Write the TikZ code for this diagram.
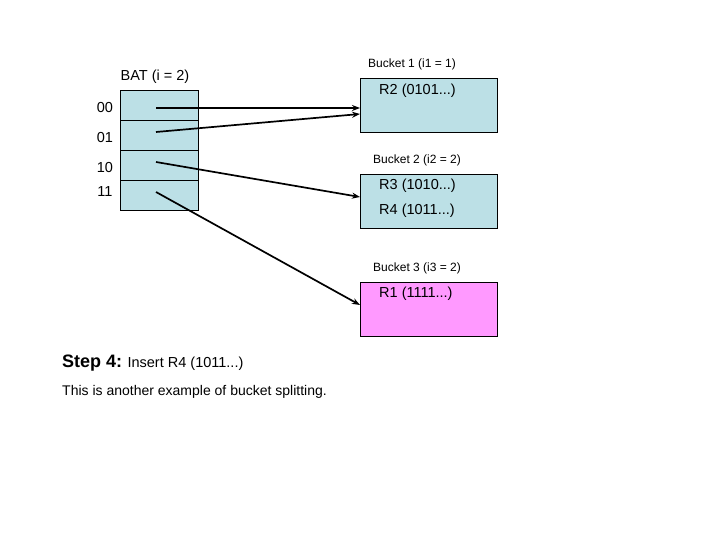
\documentclass[tikz,border=0pt]{standalone}
\usepackage{fontspec}
\setmainfont{Liberation Sans}
\usetikzlibrary{arrows.meta,positioning}
\definecolor{BucketBlue}{HTML}{BCE0E6}
\definecolor{BucketPink}{HTML}{FF99FF}

\tikzset{
  cell/.style={draw, fill=BucketBlue, minimum width=78pt, minimum height=30pt, inner sep=0pt},
  bucket/.style={draw, minimum width=137pt, minimum height=54pt, inner sep=0pt},
  bigtxt/.style={font=\fontsize{14.5}{17}\selectfont, inner sep=0pt},
  smalltxt/.style={font=\fontsize{12}{14}\selectfont, inner sep=0pt},
  ptr/.style={-{Stealth[length=8pt, width=6pt]}, line width=1.7pt}
}

\begin{document}
\begin{tikzpicture}[x=1pt, y=-1pt]
\useasboundingbox (0,0) rectangle (720,540);

% BAT table
\node[bigtxt] (bat) at (155,77) {BAT (i = 2)};
\foreach \lbl/\ly [count=\k] in {00/108, 01/138, 10/168, 11/192}
{
  \node[cell, anchor=north west] (c\lbl) at (120,{90+30*(\k-1)}) {};
  \node[bigtxt] (l\lbl) at (105,\ly) {\lbl};
}

% Buckets
\node[bucket, fill=BucketBlue, anchor=north west] (b1) at (360,78) {};
\node[bucket, fill=BucketBlue, anchor=north west] (b2) at (360,174) {};
\node[bucket, fill=BucketPink, anchor=north west] (b3) at (360,282) {};

\node[smalltxt, anchor=west] (t1) at (368,64) {Bucket 1 (i1 = 1)};
\node[smalltxt, anchor=west] (t2) at (373,160) {Bucket 2 (i2 = 2)};
\node[smalltxt, anchor=west] (t3) at (373,268) {Bucket 3 (i3 = 2)};

% Records
\node[bigtxt, anchor=west] (r2) at (379,91) {R2 (0101...)};
\node[bigtxt, anchor=west] (r3) at (379,186) {R3 (1010...)};
\node[bigtxt, anchor=west] (r4) at (379,211) {R4 (1011...)};
\node[bigtxt, anchor=west] (r1) at (379,294) {R1 (1111...)};

% Pointers from directory to buckets
\coordinate (p00) at (156,108);
\coordinate (p01) at (156,132);
\coordinate (p10) at (156,162);
\coordinate (p11) at (156,192);
\coordinate (e01) at (360,114);
\coordinate (e10) at (360,197);
\coordinate (e11) at (360,305);
\draw[ptr] (p00) -- (p00 -| b1.west);
\draw[ptr] (p01) -- (e01);
\draw[ptr] (p10) -- (e10);
\draw[ptr] (p11) -- (e11);

% Caption
\node[bigtxt, anchor=base west] (step) at (62,367)
  {{\bfseries\fontsize{18}{20}\selectfont Step 4:} Insert R4 (1011...)};
\node[anchor=base west, inner sep=0pt, font=\fontsize{14}{16}\selectfont] (note) at (62,395)
  {This is another example of bucket splitting.};
\end{tikzpicture}
\end{document}
